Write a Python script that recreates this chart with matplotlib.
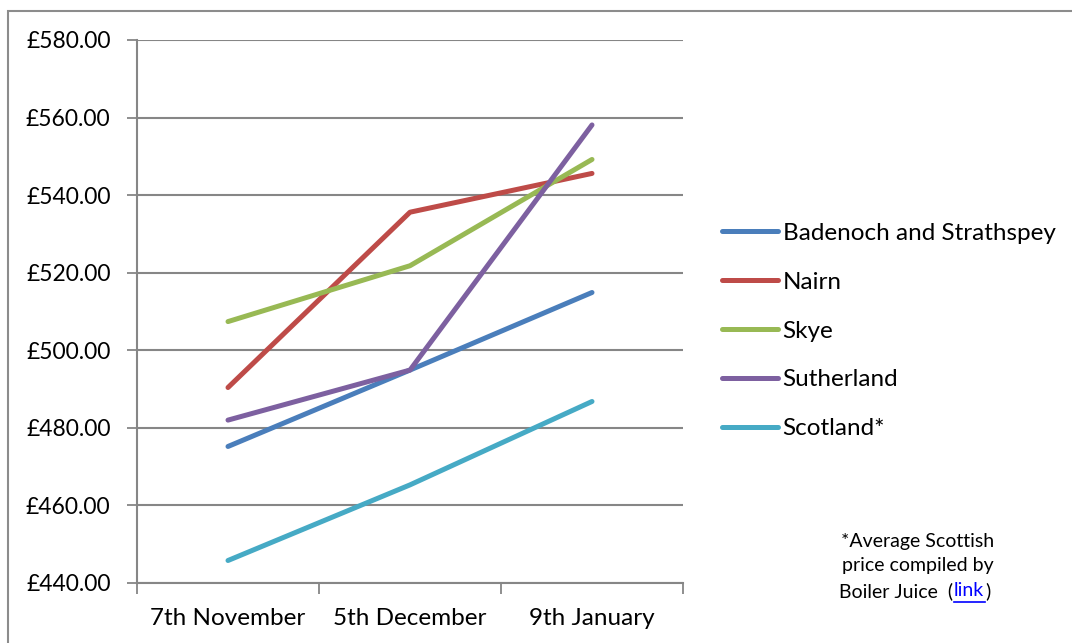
import numpy as np
import matplotlib.pyplot as plt
from matplotlib.patches import Rectangle

# dados
dates = ["7th November", "5th December", "9th January"]
badenoch = [475.2, 494.9, 514.9]
nairn = [490.4, 535.6, 545.6]
skye = [507.4, 521.8, 549.2]
sutherland = [482.0, 494.9, 558.1]
scotland = [445.8, 465.3, 486.8]

names = ["Badenoch and Strathspey", "Nairn", "Skye", "Sutherland", "Scotland*"]
series = [badenoch, nairn, skye, sutherland, scotland]
cores = ["#4A7EBB", "#BE4B48", "#98B954", "#7D60A0", "#46AAC5"]

plt.rcParams['font.family'] = ['Lato', 'DejaVu Sans']
W, H = 1072, 643
fs = 17.5
fig = plt.figure(figsize=(W/100, H/100), dpi=100)

# borda externa (sai da imagem embaixo e à direita)
fig.patches.append(Rectangle((8/W, -0.1), 1.2, 1.1 - 11/H, transform=fig.transFigure,
                             fill=False, ec='#8C8C8C', lw=1.5))

ax = fig.add_axes([137/W, 1 - 583/H, (683-137)/W, (583-40)/H])
x = np.arange(len(dates))
for s, n, c in zip(series, names, cores):
    ax.plot(x, s, c=c, lw=3.6, solid_capstyle='round', label=n)

ax.set_xlim(-0.5, 2.5)
ax.set_ylim(440, 580)
ax.set_yticks(np.arange(440, 581, 20))
ax.set_yticklabels(["£%.2f" % v for v in np.arange(440, 581, 20)], fontsize=16.5)
ax.set_xticks(x)
ax.set_xticklabels(dates, fontsize=fs)
ax.set_xticks([-0.5, 0.5, 1.5, 2.5], minor=True)
ax.tick_params(axis='x', which='major', length=0, pad=18)
ax.tick_params(axis='x', which='minor', length=8, color='#868686', width=1.3)
ax.tick_params(axis='y', length=7, color='#868686', width=1.3, pad=12)
ax.grid(axis='y', color='#868686', lw=1.5)
ax.set_axisbelow(True)
for sp in ['top', 'right']:
    ax.spines[sp].set_visible(False)
for sp in ['left', 'bottom']:
    ax.spines[sp].set_color('#868686')
    ax.spines[sp].set_linewidth(1.5)

leg = ax.legend(loc='center left', bbox_to_anchor=(700/W, 1 - 331/H),
                bbox_transform=fig.transFigure, frameon=False, fontsize=fs,
                handlelength=2.3, handletextpad=0.2, labelspacing=1.15)

# nota de rodapé
nfs = 14
fig.text(918/W, 1 - 541/H, "*Average Scottish", ha='center', va='center', fontsize=nfs)
fig.text(918/W, 1 - 566/H, "price compiled by", ha='center', va='center', fontsize=nfs)
fig.text(953/W, 1 - 591/H, "Boiler Juice  (", ha='right', va='center', fontsize=nfs)
fig.text(954/W, 1 - 591/H, "link", ha='left', va='center', fontsize=nfs, color='#0000FF')
fig.text(985/W, 1 - 591/H, ")", ha='left', va='center', fontsize=nfs)
fig.add_artist(plt.Line2D([954/W, 985/W], [1 - 602/H, 1 - 602/H], color='#0000FF', lw=1.2))

fig.savefig('out.png', dpi=100)
